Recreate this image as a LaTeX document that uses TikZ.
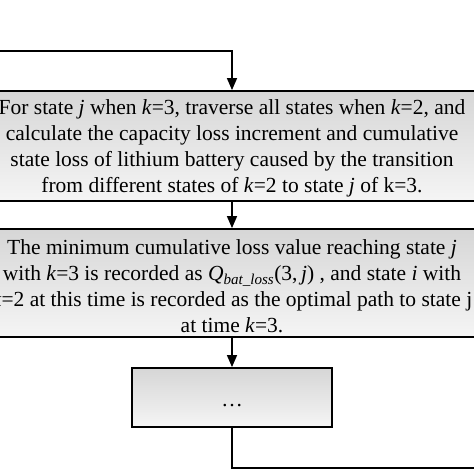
\documentclass[tikz,border=0pt]{standalone}
\usepackage{fontspec}
\setmainfont{Liberation Serif}
\usetikzlibrary{arrows.meta}
\begin{document}
\begin{tikzpicture}[x=1pt,y=-1pt]
  \tikzstyle{stepbox}=[draw,line width=1.8pt,top color=black!16,bottom color=black!4,align=center,inner sep=0pt,font=\fontsize{21.5}{26}\selectfont]
  \tikzstyle{flow}=[line width=1.4pt,-{Triangle[width=10pt,length=12pt]}]
  \useasboundingbox (0,0) rectangle (474,474);
  \coordinate (loopin) at (-20,51);
  \coordinate (loopout) at (490,468);
  \node [stepbox,minimum width=540pt,minimum height=110pt] (traverse) at (232,146)
    {\rule{0pt}{19pt}For state \textit{j} when \textit{k}=3, traverse all states when \textit{k}=2, and\\
     calculate the capacity loss increment and cumulative\\
     state loss of lithium battery caused by the transition\\
     from different states of \textit{k}=2 to state \textit{j} of k=3.};
  \node [stepbox,minimum width=540pt,minimum height=108pt] (record) at (232,283)
    {\rule{0pt}{22pt}The minimum cumulative loss value reaching state \textit{j}\\
     with \textit{k}=3 is recorded as \textit{Q}\textsubscript{\textit{bat\_loss}}(3,\,\textit{j}) , and state \textit{i} with\\
     \textit{k}=2 at this time is recorded as the optimal path to state j\\
     at time \textit{k}=3.};
  \node [stepbox,minimum width=200pt,minimum height=59pt] (dots) at (232,397.5) {\raisebox{-9pt}[0pt][0pt]{\dots}};
  \draw [flow] (loopin) -| (traverse.north);
  \draw [flow] (traverse) -- (record);
  \draw [flow] (record) -- (dots);
  \draw [line width=1.4pt] (dots.south) |- (loopout);
\end{tikzpicture}
\end{document}
